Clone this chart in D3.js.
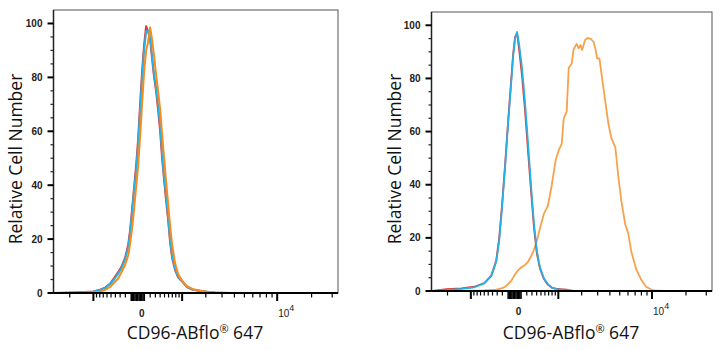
<!DOCTYPE html>
<html><head><meta charset="utf-8">
<script src="https://cdn.jsdelivr.net/npm/d3@7"></script>
<style>body{margin:0;background:#fff} svg{display:block}</style>
</head><body>
<svg id="c" width="723" height="350"></svg>
<script>
// ---------- data ----------
const xDomain = [-3000, 33600];
const yDomain = [0, 105];
const yMajorTicks = [0, 20, 40, 60, 80, 100];
const yMinorTicks = [5, 10, 15, 25, 30, 35, 45, 50, 55, 65, 70, 75, 85, 90, 95];
const xMajorTicks = [-1000, 1000, 10000];
const xZeroTicks = [-100, -80, -60, -40, -20, 0, 20, 40, 60, 80, 100];
const xMinorTicks = [-2000, -900, -800, -700, -600, -500, -400, -300, -200,
  200, 300, 400, 500, 600, 700, 800, 900,
  2000, 3000, 4000, 5000, 6000, 7000, 8000, 9000, 20000, 30000];
const xTickLabels = [{ v: 0, t: "0", sup: "" }, { v: 10000, t: "10", sup: "4" }];
const xTitle = ["CD96-ABflo", "®", " 647"];
const yTitle = "Relative Cell Number";

// left panel (all three overlap)
const leftBins = [-2900, -2250, -1500, -1000, -790, -650, -520, -430, -340, -280, -205, -150, -120, -86, -55, -25,
  5, 34, 64, 96, 130, 163, 200, 235, 274, 314, 355, 400, 443, 490, 540, 590, 640, 695, 780, 870, 1000, 1170,
  1400, 1700, 2070, 2530, 3620, 7000, 15900, 33600];
const leftRed = [0, 0, 0.3, 0.6, 1.2, 2, 3.5, 5.5, 7.8, 9.5, 13, 18, 23, 31, 39, 47,
  57, 70, 82, 92, 99, 97, 94, 87, 80, 75, 68, 60, 50, 42, 34, 27, 19, 13, 8.5, 5.8, 4.2, 2.2,
  1.2, 0.7, 0.4, 0.1, 0, 0, 0, 0];
const leftBlue = [0, 0.2, 0.3, 0.5, 1.1, 1.8, 3.4, 5, 7.2, 9, 12.5, 17, 22, 30, 38, 45,
  55, 68, 80, 90, 97, 97.5, 95, 88, 81, 76, 70, 62, 52, 43, 36, 28, 20, 14, 9, 6, 4.5, 2.2,
  1.3, 0.8, 0.5, 0.2, 0, 0, 0, 0];
const leftOrange = [0, 0, 0.1, 0.3, 0.5, 1.2, 2.3, 3.8, 5.4, 7.5, 10.5, 14, 18, 24, 31, 39,
  47, 58, 70, 82, 90, 93, 98.5, 94, 88, 81, 75, 68, 59, 50, 41, 33, 25, 18, 11, 7, 4.5, 2.5,
  1.4, 0.9, 0.5, 0.2, 0, 0, 0, 0];

// right panel
const rightBins = [-2900, -2050, -1350, -884, -598, -428, -320, -260, -204, -150, -100, -52, -22,
  7, 37, 68, 116, 168, 222, 280, 341, 406, 475, 573, 678, 793, 916, 1015, 1120, 1193, 1308, 1390,
  1516, 1605, 1745, 1843, 1944, 2023, 2188, 2333, 2516, 2710, 2846, 2951, 3133, 3324, 3608, 3866,
  4141, 4532, 4846, 5177, 5652, 6030, 6435, 7160, 7958, 8837, 10223, 13066, 21593, 33600];
const rightRed = [0, 0.7, 1.0, 1.6, 3.0, 5.8, 11.5, 20, 33, 48, 64, 79, 89,
  95.5, 97, 91, 81, 68, 53, 38, 24, 14, 8.5, 4.5, 2.4, 1.2, 0.9, 0.8, 0.6, 0.6, 0.5, 0.3,
  0.1, 0, 0, 0, 0, 0, 0, 0, 0, 0, 0, 0, 0, 0, 0, 0,
  0, 0, 0, 0, 0, 0, 0, 0, 0, 0, 0, 0, 0, 0];
const rightBlue = [0, 0.3, 0.8, 1.4, 2.9, 5.6, 11, 19, 32, 47, 63, 78, 88,
  95, 97.5, 93, 84, 71, 56, 40, 25.5, 15, 9, 4.8, 2.6, 1.3, 0.8, 0.6, 0.5, 0.4, 0.3, 0.2,
  0.1, 0, 0, 0, 0, 0, 0, 0, 0, 0, 0, 0, 0, 0, 0, 0,
  0, 0, 0, 0, 0, 0, 0, 0, 0, 0, 0, 0, 0, 0];
const rightOrange = [0, 0, 0, 0.1, 0.2, 0.4, 0.5, 0.8, 1.1, 1.6, 2.6, 3.8, 5,
  6.3, 7.3, 8.2, 9.1, 9.8, 11, 13, 15.4, 19, 23.5, 29, 32, 40, 49.5, 53, 55.5, 65, 67.5, 84,
  85.5, 91, 93, 91.3, 92.6, 90.7, 94.5, 95.2, 95, 93.8, 91, 87.6, 87.5, 80.5, 71, 63,
  57.5, 54, 43, 34, 25, 21.7, 15, 8.2, 4.3, 1.6, 0.2, 0, 0, 0];

// ---------- drawing ----------
const svg = d3.select("#c");
const FONT = "'Liberation Sans', Arial, sans-serif";
const TITLE_FONT = "'Open Sans', 'Noto Sans', sans-serif";

const panels = [
  { left: 53.5, right: 338, bottom: 293, top: 10, yTitleX: 16, xTitleX: 195,
    bins: leftBins, order: [["#e8362d", leftRed], ["#25b1e6", leftBlue], ["#f98a1d", leftOrange]], lw: 2 },
  { left: 431.5, right: 712, bottom: 291, top: 12, yTitleX: 395, xTitleX: 571,
    bins: rightBins, order: [["#f7a24b", rightOrange], ["#e8362d", rightRed], ["#25b1e6", rightBlue]], lw: 1.8 }
];

panels.forEach(p => {
  const x = d3.scaleSymlog().constant(750).domain(xDomain).range([p.left, p.right]);
  const y = d3.scaleLinear().domain(yDomain).range([p.bottom, p.top]);
  const g = svg.append("g");

  // frame
  g.append("rect").attr("x", p.left).attr("y", p.top)
    .attr("width", p.right - p.left).attr("height", p.bottom - p.top)
    .attr("fill", "none").attr("stroke", "#555").attr("stroke-width", 1);

  // curves
  p.order.forEach(([col, vals]) => {
    const line = d3.line().x((d, i) => x(p.bins[i])).y(d => y(d));
    g.append("path").datum(vals).attr("d", line)
      .attr("fill", "none").attr("stroke", col).attr("stroke-width", p.lw)
      .attr("stroke-linejoin", "round");
  });

  // left axis
  g.append("line").attr("x1", p.left).attr("x2", p.left).attr("y1", p.top).attr("y2", p.bottom)
    .attr("stroke", "#222").attr("stroke-width", 1.5);
  g.selectAll(".ymaj").data(yMajorTicks).join("line")
    .attr("x1", p.left - 6).attr("x2", p.left).attr("y1", d => y(d)).attr("y2", d => y(d))
    .attr("stroke", "#000").attr("stroke-width", 2);
  g.selectAll(".ymin").data(yMinorTicks).join("line")
    .attr("x1", p.left - 3).attr("x2", p.left).attr("y1", d => y(d)).attr("y2", d => y(d))
    .attr("stroke", "#222").attr("stroke-width", 1.2);
  g.selectAll(".ylab").data(yMajorTicks).join("text")
    .attr("x", p.left - 11).attr("y", d => y(d)).attr("dy", "0.35em")
    .attr("text-anchor", "end").attr("font-family", FONT).attr("font-size", 10)
    .attr("font-weight", "bold").attr("fill", "#222").text(d => d);

  // bottom axis
  g.append("line").attr("x1", p.left).attr("x2", p.right).attr("y1", p.bottom).attr("y2", p.bottom)
    .attr("stroke", "#000").attr("stroke-width", 2);
  g.selectAll(".xmaj").data(xMajorTicks).join("line")
    .attr("x1", d => x(d)).attr("x2", d => x(d)).attr("y1", p.bottom).attr("y2", p.bottom + 8)
    .attr("stroke", "#000").attr("stroke-width", 2);
  g.selectAll(".xzero").data(xZeroTicks).join("line")
    .attr("x1", d => x(d)).attr("x2", d => x(d)).attr("y1", p.bottom).attr("y2", p.bottom + 8)
    .attr("stroke", "#000").attr("stroke-width", 1.5);
  g.selectAll(".xmin").data(xMinorTicks).join("line")
    .attr("x1", d => x(d)).attr("x2", d => x(d)).attr("y1", p.bottom).attr("y2", p.bottom + 4.5)
    .attr("stroke", "#000").attr("stroke-width", 1.2);
  xTickLabels.forEach(l => {
    const t = g.append("text").attr("font-family", FONT).attr("font-size", 10)
      .attr("fill", "#222").attr("y", p.bottom + 24);
    if (l.sup) {
      t.attr("x", x(l.v) + 1).attr("text-anchor", "start");
      t.append("tspan").text(l.t);
      t.append("tspan").attr("dy", -6).attr("font-size", 9).text(l.sup);
    } else {
      t.attr("x", x(l.v) + 4).attr("text-anchor", "middle").attr("font-weight", "bold").text(l.t);
    }
  });

  // titles
  const xt = g.append("text").attr("x", p.xTitleX).attr("y", 339).attr("text-anchor", "middle")
    .attr("font-family", TITLE_FONT).attr("font-size", 17.5).attr("fill", "#111");
  xt.append("tspan").text(xTitle[0]);
  xt.append("tspan").attr("dy", -6).attr("font-size", 11).text(xTitle[1]);
  xt.append("tspan").attr("dy", 6).text(xTitle[2]);

  g.append("text").attr("transform", `translate(${p.yTitleX},${159}) rotate(-90)`)
    .attr("dy", "0.35em").attr("text-anchor", "middle")
    .attr("font-family", TITLE_FONT).attr("font-size", 17.5).attr("fill", "#111").text(yTitle);
});
</script>
</body></html>
